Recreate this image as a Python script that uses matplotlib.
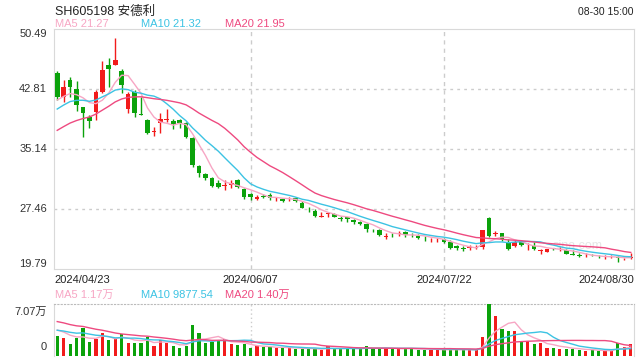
import matplotlib
matplotlib.use("Agg")
import matplotlib.pyplot as plt
import numpy as np

plt.rcParams['font.family'] = ['Liberation Sans', 'Noto Sans CJK SC', 'DejaVu Sans']

# daily candles, 2024/04/23 .. 2024/08/30
opens = [44.90, 41.83, 43.97, 42.78, 40.47, 39.27, 39.91, 42.47, 45.88, 45.93,
         45.12, 40.26, 42.47, 39.62, 38.85, 37.35, 38.43, 38.85, 38.76, 38.85,
         38.43, 36.51, 32.97, 31.94, 31.39, 30.75, 30.45, 30.54, 31.18, 29.98,
         29.34, 28.71, 29.10, 29.26, 28.74, 28.71, 28.71, 28.91, 28.28, 27.52,
         27.21, 26.50, 26.82, 26.82, 26.27, 26.40, 26.06, 25.84, 25.55, 24.92,
         24.78, 23.90, 24.16, 24.30, 24.52, 24.16, 24.05, 23.80, 23.50, 23.50,
         23.58, 23.28, 22.73, 22.45, 22.50, 22.50, 22.64, 26.31, 24.30, 24.36,
         23.28, 22.78, 23.28, 22.70, 22.73, 22.10, 21.98, 22.40, 22.30, 22.19,
         21.75, 21.57, 21.30, 21.57, 21.37, 21.15, 21.32, 21.37, 21.05, 21.15]
highs = [45.12, 43.97, 44.39, 43.88, 40.47, 39.49, 42.69, 46.43, 46.74, 49.38,
         45.33, 42.47, 42.69, 41.83, 38.94, 38.00, 39.75, 40.22, 38.94, 38.94,
         38.63, 36.71, 33.09, 32.03, 31.52, 31.18, 31.18, 31.18, 31.26, 30.11,
         29.47, 29.26, 29.38, 29.47, 28.96, 28.83, 28.96, 29.04, 28.53, 27.76,
         27.46, 27.12, 27.12, 27.00, 26.57, 26.48, 26.15, 25.97, 25.64, 24.95,
         24.87, 24.36, 24.36, 24.65, 24.65, 24.40, 24.27, 24.00, 23.80, 23.80,
         23.80, 23.50, 22.86, 22.73, 22.86, 22.80, 24.82, 26.48, 24.65, 24.44,
         23.58, 23.50, 23.50, 23.08, 23.28, 22.41, 22.35, 22.50, 22.55, 22.30,
         22.20, 21.80, 21.87, 21.70, 21.55, 21.57, 21.55, 21.45, 21.25, 21.80]
lows = [41.41, 41.12, 41.83, 40.04, 36.71, 37.87, 38.85, 42.27, 43.11, 45.93,
        42.27, 39.71, 39.20, 39.50, 37.06, 36.80, 37.23, 38.63, 37.66, 37.79,
        36.51, 32.88, 31.60, 31.18, 30.24, 30.11, 29.90, 30.11, 30.11, 28.71,
        28.62, 28.62, 28.83, 28.62, 28.50, 28.33, 28.50, 28.33, 27.56, 27.12,
        26.48, 26.48, 26.48, 26.40, 25.97, 25.84, 25.55, 25.42, 24.56, 24.48,
        24.01, 23.58, 23.85, 24.05, 23.93, 23.90, 23.58, 23.40, 23.20, 23.30,
        23.08, 22.31, 22.22, 22.13, 22.22, 22.30, 22.35, 23.93, 24.01, 23.37,
        22.22, 22.64, 22.73, 22.22, 22.22, 21.77, 21.95, 22.20, 22.05, 21.70,
        21.60, 21.35, 21.28, 21.40, 21.15, 21.13, 21.15, 20.72, 20.90, 21.10]
closes = [41.83, 43.11, 43.03, 40.77, 39.71, 38.76, 42.43, 45.25, 45.34, 46.53,
          43.33, 42.18, 39.71, 39.55, 37.23, 37.50, 38.94, 38.94, 38.34, 38.43,
          36.64, 33.09, 32.03, 31.39, 30.45, 30.32, 30.55, 30.75, 30.32, 28.96,
          29.04, 29.04, 29.02, 28.83, 28.80, 28.50, 28.78, 28.53, 27.63, 27.46,
          26.61, 26.60, 26.90, 26.48, 26.20, 26.15, 25.76, 25.55, 24.91, 24.85,
          24.14, 24.00, 24.10, 24.40, 24.14, 24.10, 23.80, 23.72, 23.55, 23.56,
          23.25, 22.53, 22.43, 22.40, 22.55, 22.56, 24.82, 23.97, 24.40, 23.58,
          22.35, 23.28, 22.86, 22.78, 22.39, 22.15, 22.32, 22.37, 22.37, 21.77,
          21.63, 21.50, 21.37, 21.53, 21.32, 21.20, 21.37, 21.15, 21.10, 21.37]
volumes = [27300, 24200, 15900, 24200, 38100, 18700, 22900, 31200, 21500, 22900,
           29400, 17300, 17300, 17300, 26000, 13200, 21500, 17300, 13200, 10800,
           13200, 42300, 31600, 17700, 19700, 21500, 22500, 15900, 14600, 15900,
           10800, 13200, 12200, 12200, 10800, 10800, 10800, 10000, 10000, 10000,
           9300, 7600, 13600, 10000, 10000, 10800, 10000, 10000, 13200, 10000,
           10000, 10800, 10000, 10000, 10000, 10800, 8600, 8600, 8600, 8600,
           8600, 8600, 8600, 8600, 8600, 7600, 26000, 70700, 54700, 36700,
           34000, 34000, 19100, 20500, 15900, 17700, 11400, 11400, 10000, 10000,
           10000, 8600, 6200, 8600, 6200, 7600, 7600, 17700, 12200, 15900]

# sessions before the window (only feed the moving averages)
prior_closes = [33.5, 34.0, 34.3, 34.6, 34.8, 35.0, 35.2, 35.3, 35.5, 35.8,
                38.0, 38.6, 39.2, 39.6, 40.1, 40.8, 41.2, 41.5, 41.7]
prior_volumes = [60000, 62000, 58000, 55000, 57000, 60000, 59000, 58000, 61000, 56000,
                 35000, 33000, 36000, 34000, 35500, 38000, 37000, 36000, 38200]

date_labels = ['2024/04/23', '2024/06/07', '2024/07/22', '2024/08/30']
date_idx = [0, 30, 60, 89]
price_ticks = [50.49, 42.81, 35.14, 27.46, 19.79]

RED = '#f21b1b'
GREEN = '#0ba20b'
C_MA5 = '#f7a6c4'
C_MA10 = '#3cc3e3'
C_MA20 = '#ee4a80'
FRAME = '#d9d9d9'
TXT = '#333333'


def moving_avg(prior, vals, n):
    full = np.array(prior + vals, dtype=float)
    ma = np.convolve(full, np.ones(n) / n, mode='valid')
    return ma[-len(vals):]


o = np.array(opens)
h = np.array(highs)
l = np.array(lows)
c = np.array(closes)
v = np.array(volumes)
x = np.arange(len(c))
up = c >= o
cols = np.where(up, RED, GREEN)

fig = plt.figure(figsize=(6.4, 3.6), dpi=100)
ax = fig.add_axes([54 / 640, 1 - 269 / 360, 580 / 640, 240 / 360])
axv = fig.add_axes([54 / 640, 1 - 356 / 360, 580 / 640, 52 / 360])

# --- price panel ---
ax.vlines(x, l, h, colors=cols, linewidth=1, zorder=3)
body_lo = np.minimum(o, c)
body_h = np.maximum(np.abs(c - o), 0.06)
ax.bar(x, body_h, bottom=body_lo, width=0.72, color=cols, linewidth=0, zorder=4)

for n, col in [(5, C_MA5), (10, C_MA10), (20, C_MA20)]:
    ax.plot(x, moving_avg(prior_closes, closes, n), color=col, linewidth=1, zorder=5)

ax.set_xlim(-0.5, len(c) - 0.5)
ax.set_ylim(price_ticks[-1], price_ticks[0])
ax.set_yticks(price_ticks)
ax.set_yticklabels([])
ax.set_xticks([])
for t in price_ticks[1:-1]:
    ax.axhline(t, color='#cccccc', linestyle=(0, (2, 3)), linewidth=1, zorder=1)
for i in date_idx[1:3]:
    ax.axvline(i, color='#cccccc', linestyle=(0, (3, 3)), linewidth=1, zorder=1)
ax.tick_params(length=0)
for s in ax.spines.values():
    s.set_color(FRAME)

# y labels, inset at the top and bottom like the original
for k, t in enumerate(price_ticks):
    yy = t
    va = 'center'
    if k == 0:
        va = 'top'
    elif k == len(price_ticks) - 1:
        va = 'bottom'
    ax.text(-0.012, yy, f'{t:.2f}', transform=ax.get_yaxis_transform(),
            ha='right', va=va, fontsize=8, color=TXT)

for k, (i, lab) in enumerate(zip(date_idx, date_labels)):
    ha = 'center'
    xx = i
    if k == 0:
        ha, xx = 'left', -0.5
    elif k == len(date_idx) - 1:
        ha, xx = 'right', len(c) - 0.5
    ax.text(xx, -0.025, lab, transform=ax.get_xaxis_transform(),
            ha=ha, va='top', fontsize=8, color='#222222')

ax.text(0.86, 0.085, 'sina.com', transform=ax.transAxes, fontsize=9,
        color='#e6e6e6', zorder=2)

# --- volume panel ---
axv.bar(x, v, width=0.5, color=cols, linewidth=0, zorder=3)
for n, col in [(5, C_MA5), (10, C_MA10), (20, C_MA20)]:
    axv.plot(x, moving_avg(prior_volumes, volumes, n), color=col, linewidth=1, zorder=4)
axv.set_xlim(-0.5, len(c) - 0.5)
axv.set_ylim(0, 70700)
axv.set_xticks([])
axv.set_yticks([])
for i in date_idx[1:3]:
    axv.axvline(i, color='#cccccc', linestyle=(0, (1, 2)), linewidth=1, zorder=1)
axv.spines['top'].set_linestyle((0, (1, 2)))
axv.spines['top'].set_color('#bbbbbb')
axv.spines['bottom'].set_visible(False)
axv.spines['left'].set_color(FRAME)
axv.spines['right'].set_color(FRAME)
axv.text(-0.012, 0.95, '7.07万', transform=axv.transAxes, ha='right', va='top',
         fontsize=8, color=TXT)
axv.text(-0.012, 0.08, '0', transform=axv.transAxes, ha='right', va='bottom',
         fontsize=8, color=TXT)

# --- header texts ---
fig.text(55 / 640, 1 - 12 / 360, 'SH605198 安德利', fontsize=9, color='#222222',
         ha='left', va='center')
fig.text(634 / 640, 1 - 12 / 360, '08-30 15:00', fontsize=7.5, color='#222222',
         ha='right', va='center')
for xx, s, col in [(55, 'MA5 21.27', C_MA5), (141, 'MA10 21.32', C_MA10),
                   (225, 'MA20 21.95', C_MA20)]:
    fig.text(xx / 640, 1 - 24 / 360, s, fontsize=8, color=col, ha='left', va='center')
for xx, s, col in [(55, 'MA5 1.17万', C_MA5), (141, 'MA10 9877.54', C_MA10),
                   (225, 'MA20 1.40万', C_MA20)]:
    fig.text(xx / 640, 1 - 295 / 360, s, fontsize=8, color=col, ha='left', va='center')

fig.savefig('out.png', dpi=100)
